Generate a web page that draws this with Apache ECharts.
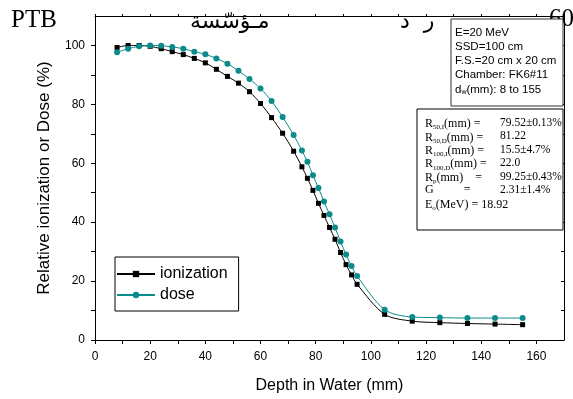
<!DOCTYPE html>
<html>
<head>
<meta charset="utf-8">
<script src="https://cdn.jsdelivr.net/npm/echarts@6/dist/echarts.min.js"></script>
<style>
  html, body { margin: 0; padding: 0; background: #fff; }
  #chart { width: 573px; height: 399px; }
</style>
</head>
<body>
<div id="chart"></div>
<script>
// depth points (mm)
const depth = [8, 12, 16, 20, 24, 28, 32, 36, 40, 44, 48, 52, 56, 60, 64, 68, 72,
  75, 77, 79, 81, 83, 85, 87, 89, 91, 93, 95,
  105, 115, 125, 135, 145, 155];
const ionization = [99.3, 100, 100, 99.7, 98.9, 97.9, 96.9, 95.6, 94.1, 91.9, 89.5, 87.2, 84.3, 80.3, 75.5, 70.2, 64.1,
  58.8, 54.9, 50.8, 46.4, 42.3, 38.2, 34.2, 29.7, 25.6, 22.1, 18.9,
  8.7, 6.4, 5.9, 5.6, 5.4, 5.2];
const dose = [97.7, 98.9, 99.7, 100, 99.9, 99.5, 98.9, 97.9, 97.0, 95.6, 93.8, 91.4, 88.6, 85.4, 81.1, 75.7, 69.6,
  64.3, 60.5, 55.9, 51.6, 47.0, 42.7, 38.2, 33.4, 29.0, 25.1, 21.7,
  10.3, 7.8, 7.6, 7.45, 7.45, 7.45];

const setupLines = ['E=20 MeV', 'SSD=100 cm', 'F.S.=20 cm x 20 cm', 'Chamber: FK6#11'];
const fitLabels = [['R', '50,I', '(mm) ='], ['R', '50,D', '(mm) ='], ['R', '100,I', '(mm) ='],
  ['R', '100,D', '(mm) ='], ['R', 'p', '(mm)    ='], ['G', '', '          =']];
const fitValues = ['79.52±0.13%', '81.22', '15.5±4.7%', '22.0', '99.25±0.43%', '2.31±1.4%'];

const SANS = 'Liberation Sans, Arial, sans-serif';
const SERIF = 'Liberation Serif, Times New Roman, serif';
const TEAL = '#0b8b8b';

const chart = echarts.init(document.getElementById('chart'));

const graphics = [];
// header text above the plot
graphics.push({ type: 'text', left: 11, top: 8, style: { text: 'PTB', font: '25px ' + SERIF, fill: '#000' } });
graphics.push({ type: 'text', left: 190, top: 11, style: { text: 'مـؤسّسة', font: '22px DejaVu Sans', fill: '#000' } });
graphics.push({ type: 'text', left: 400, top: 11, style: { text: 'ر  د', font: '22px DejaVu Sans', fill: '#000' } });
graphics.push({ type: 'text', left: 549, top: 7, style: { text: '60', font: '25px ' + SERIF, fill: '#000' } });

// setup box
graphics.push({ type: 'rect', shape: { x: 451, y: 19, width: 112, height: 87 }, style: { fill: '#fff', stroke: '#333', lineWidth: 1 }, z: 10 });
setupLines.forEach((t, i) => {
  graphics.push({ type: 'text', x: 455, y: 27 + i * 14, z: 11, style: { text: t, font: '11.5px ' + SANS, fill: '#000' } });
});
graphics.push({
  type: 'text', x: 455, y: 83, z: 11,
  style: {
    text: '{a|d}{s|w}{a|(mm): 8 to 155}',
    rich: { a: { font: '11.5px ' + SANS, fill: '#000' }, s: { font: '7px ' + SANS, fill: '#000', verticalAlign: 'bottom', padding: [6, 0, 0, 0] } }
  }
});

// fit results box
graphics.push({ type: 'rect', shape: { x: 417, y: 109, width: 146, height: 121 }, style: { fill: '#fff', stroke: '#000', lineWidth: 1 }, z: 10 });
const richSerif = {
  a: { font: '12px ' + SERIF, fill: '#000' },
  s: { font: '7px ' + SERIF, fill: '#000', padding: [7, 0, 0, 0] }
};
fitLabels.forEach((l, i) => {
  const y = 117 + i * 13.4;
  graphics.push({
    type: 'text', x: 425, y: y, z: 11,
    style: { text: '{a|' + l[0] + '}' + (l[1] ? '{s|' + l[1] + '}' : '') + '{a|' + l[2] + '}', rich: richSerif }
  });
  graphics.push({ type: 'text', x: 500, y: y, z: 11, style: { text: fitValues[i], font: '11.5px ' + SERIF, fill: '#000' } });
});
graphics.push({
  type: 'text', x: 425, y: 117 + 6 * 13.4, z: 11,
  style: { text: '{a|E}{s|o}{a|(MeV) = 18.92}', rich: richSerif }
});

const tickLabel = { color: '#000', fontSize: 12, fontFamily: SANS };

const option = {
  animation: false,
  backgroundColor: '#fff',
  grid: { left: 95, right: 9, top: 16, bottom: 54 },
  legend: {
    orient: 'vertical',
    left: 115,
    top: 257,
    padding: [9, 11, 8, 1],
    itemGap: 5,
    itemWidth: 38,
    itemHeight: 8,
    borderColor: '#000',
    borderWidth: 1,
    backgroundColor: '#fff',
    textStyle: { color: '#000', fontSize: 16, fontFamily: SANS },
    data: ['ionization', 'dose']
  },
  xAxis: [
    {
      type: 'value', min: 0, max: 170, interval: 10,
      name: 'Depth in Water (mm)', nameLocation: 'middle', nameGap: 38,
      nameTextStyle: { color: '#000', fontSize: 16, fontFamily: SANS },
      axisLine: { show: true, lineStyle: { color: '#000', width: 1 } },
      axisTick: { show: true, length: 4, lineStyle: { color: '#000' } },
      axisLabel: Object.assign({ margin: 11, showMaxLabel: false, formatter: v => (v % 20 === 0 ? v : '') }, tickLabel),
      splitLine: { show: false }
    },
    {
      type: 'value', position: 'top', min: 0, max: 170, interval: 10,
      axisLine: { show: true, onZero: false, lineStyle: { color: '#000', width: 1 } },
      axisTick: { show: true, length: 2, lineStyle: { color: '#000' } },
      axisLabel: { show: false },
      splitLine: { show: false }
    }
  ],
  yAxis: [
    {
      type: 'value', min: 0, max: 110, interval: 10,
      name: 'Relative ionization or Dose (%)', nameLocation: 'middle', nameGap: 42,
      nameTextStyle: { color: '#000', fontSize: 17, fontFamily: SANS },
      axisLine: { show: true, lineStyle: { color: '#000', width: 1 } },
      axisTick: { show: true, length: 4, lineStyle: { color: '#000' } },
      axisLabel: Object.assign({ margin: 10, showMaxLabel: false, formatter: v => (v % 20 === 0 ? v : '') }, tickLabel),
      splitLine: { show: false }
    },
    {
      type: 'value', position: 'right', min: 0, max: 110, interval: 10,
      axisLine: { show: true, onZero: false, lineStyle: { color: '#000', width: 1 } },
      axisTick: { show: true, inside: true, length: 3, lineStyle: { color: '#000' } },
      axisLabel: { show: false },
      splitLine: { show: false }
    }
  ],
  series: [
    {
      name: 'ionization',
      type: 'line',
      data: depth.map((d, i) => [d, ionization[i]]),
      smooth: 0.3,
      symbol: 'rect',
      symbolSize: 5,
      itemStyle: { color: '#000' },
      lineStyle: { color: '#000', width: 1 }
    },
    {
      name: 'dose',
      type: 'line',
      data: depth.map((d, i) => [d, dose[i]]),
      smooth: 0.3,
      symbol: 'circle',
      symbolSize: 6,
      itemStyle: { color: TEAL },
      lineStyle: { color: TEAL, width: 1 }
    }
  ],
  graphic: graphics
};

chart.setOption(option);
</script>
</body>
</html>
